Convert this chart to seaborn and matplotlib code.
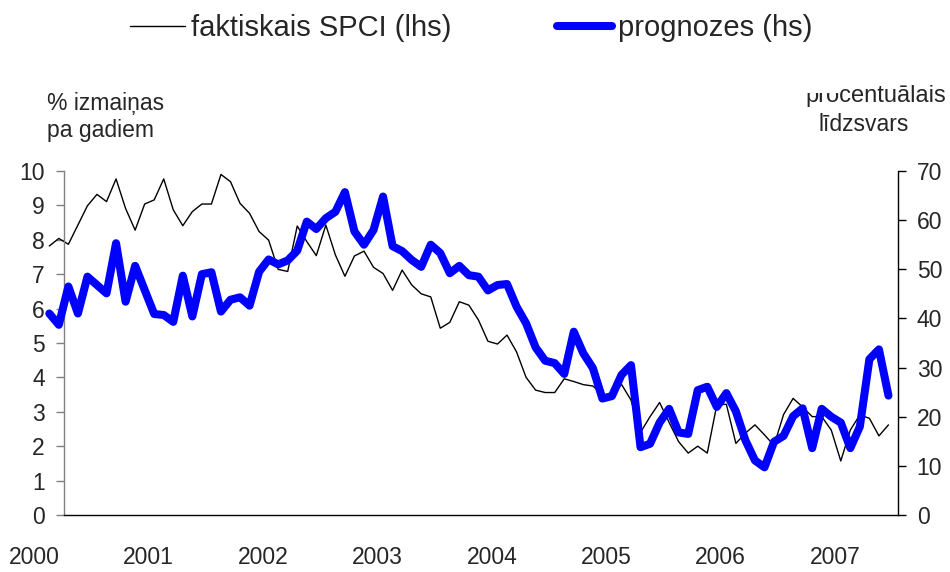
import numpy as np
import pandas as pd
import matplotlib
matplotlib.use("Agg")
import matplotlib.pyplot as plt
import seaborn as sns
from matplotlib.patches import Rectangle

# ---- data (monthly, starting Nov 1999) ----
spci = [7.82, 8.04, 7.87, 8.43, 8.99, 9.32, 9.11, 9.77, 8.91, 8.28,
        9.04, 9.16, 9.77, 8.87, 8.41, 8.82, 9.04, 9.04, 9.90, 9.69,
        9.06, 8.77, 8.24, 7.99, 7.14, 7.08, 8.40, 7.95, 7.54, 8.43,
        7.56, 6.94, 7.53, 7.67, 7.20, 7.02, 6.53, 7.12, 6.69, 6.43,
        6.34, 5.43, 5.60, 6.20, 6.10, 5.67, 5.05, 4.97, 5.23, 4.74,
        4.00, 3.63, 3.56, 3.56, 3.96, 3.88, 3.79, 3.75, 3.50, 3.44,
        3.80, 3.34, 2.40, 2.86, 3.27, 2.69, 2.13, 1.80, 2.00, 1.80,
        3.20, 3.22, 2.08, 2.38, 2.62, 2.33, 2.02, 2.92, 3.39, 3.14,
        2.86, 2.86, 2.47, 1.57, 2.47, 2.91, 2.81, 2.30, 2.62]

prognozes = [41.0, 38.7, 46.5, 41.0, 48.5, 46.8, 45.1, 55.3, 43.4, 50.7,
             45.8, 40.9, 40.7, 39.3, 48.7, 40.4, 49.0, 49.4, 41.4, 43.8,
             44.3, 42.6, 49.5, 52.0, 51.0, 51.8, 53.8, 59.7, 58.2, 60.4,
             61.7, 65.7, 57.7, 55.0, 58.0, 64.8, 54.7, 53.7, 51.9, 50.5,
             55.0, 53.3, 49.2, 50.7, 48.8, 48.5, 45.7, 46.8, 47.0, 42.4,
             39.0, 34.1, 31.4, 30.9, 28.7, 37.3, 32.9, 29.9, 23.7, 24.2,
             28.5, 30.5, 13.8, 14.5, 18.8, 21.6, 16.8, 16.5, 25.4, 26.1,
             22.0, 24.8, 21.1, 15.2, 11.1, 9.7, 14.9, 16.1, 20.1, 21.7,
             13.6, 21.6, 20.0, 18.8, 13.6, 18.0, 31.7, 33.7, 24.3]

months = pd.period_range("1999-11", periods=len(spci), freq="M")
year_labels = ["2000", "2001", "2002", "2003", "2004", "2005", "2006", "2007"]
left_ticks = list(range(0, 11))
right_ticks = list(range(0, 71, 10))

label_spci = "faktiskais SPCI (lhs)"
label_prog = "prognozes (hs)"
left_title = ["% izmaiņas", "pa gadiem"]
right_title = ["procentuālais", "līdzsvars"]

# ---- style ----
sns.set_style("white")
plt.rcParams["font.family"] = ["Liberation Sans", "DejaVu Sans"]

x = np.arange(len(months))
df = pd.DataFrame({"x": x, "spci": spci, "prog": prognozes})

fig = plt.figure(figsize=(9.5, 5.72), dpi=100)
W, H = 950.0, 572.0
x_left, x_right, y_top, y_bot = 49.3, 898.0, 171.0, 515.0
ax = fig.add_axes([x_left / W, 1 - y_bot / H, (x_right - x_left) / W, (y_bot - y_top) / H])
ax2 = ax.twinx()

sns.lineplot(data=df, x="x", y="spci", ax=ax, color="black", linewidth=1.0)
sns.lineplot(data=df, x="x", y="prog", ax=ax2, color="#0000FF", linewidth=5.8)
for ln in ax.lines + ax2.lines:
    ln.set_clip_on(False)
    ln.set_solid_joinstyle("round")

n = len(months)
ax.set_xlabel("")
ax.set_ylabel("")
ax2.set_ylabel("")

# first January in the series
jan0 = [i for i, m in enumerate(months) if m.month == 1][0]
tick_pos = [jan0 - 0.5 + 12 * k for k in range(len(year_labels))]
label_pos = [p - 3.1 for p in tick_pos]

ax.set_xticks(tick_pos)
ax.set_xticklabels([])
ax.tick_params(axis="x", which="major", direction="out", length=5, width=1, color="black")
for p, lab in zip(label_pos, year_labels):
    ax.annotate(lab, xy=(p, 0), xycoords=("data", "axes fraction"),
                xytext=(0, -30.5), textcoords="offset points",
                ha="center", va="center", fontsize=16.5, annotation_clip=False)

ax.set_yticks(left_ticks)
ax.set_yticklabels([str(v) for v in left_ticks])
ax.tick_params(axis="y", direction="out", length=5.5, width=1, color="#808080",
               labelsize=16.5, pad=8, left=True)
ax2.set_yticks(right_ticks)
ax2.set_yticklabels([str(v) for v in right_ticks])
ax2.tick_params(axis="y", direction="out", length=5.5, width=1, color="black",
                labelsize=16.5, pad=8, right=True)

ax.set_xlim(0, n)
ax.set_ylim(0, 10)
ax2.set_ylim(0, 70)

for s in ["top", "right"]:
    ax.spines[s].set_visible(False)
ax.spines["left"].set_position(("data", tick_pos[0]))
ax.spines["left"].set_color("#808080")
ax.spines["left"].set_linewidth(1.0)
ax.spines["bottom"].set_bounds(tick_pos[0], n)
ax.spines["bottom"].set_color("black")
ax.spines["bottom"].set_linewidth(1.0)
for s in ["top", "left", "bottom"]:
    ax2.spines[s].set_visible(False)
ax2.spines["right"].set_color("black")
ax2.spines["right"].set_linewidth(1.0)

# axis titles
fig.text(47 / W, 1 - 110 / H, left_title[0], ha="left", va="baseline", fontsize=16.5)
fig.text(47 / W, 1 - 137 / H, left_title[1], ha="left", va="baseline", fontsize=16.5)
fig.text(805 / W, 1 - 102 / H, right_title[0], ha="left", va="baseline", fontsize=17)
fig.text(818 / W, 1 - 131 / H, right_title[1], ha="left", va="baseline", fontsize=16.5)
# legend box overlapping the top of the right title
fig.patches.append(Rectangle((790 / W, 1 - 93 / H), 50 / W, 93 / H,
                             transform=fig.transFigure, facecolor="white",
                             edgecolor="none", zorder=5))

# legend
handles = [ax.lines[0], ax2.lines[0]]
leg = fig.legend(handles, [label_spci, label_prog], loc="center",
                 bbox_to_anchor=(471 / W, 1 - 28 / H), ncol=2, frameon=False,
                 fontsize=21, handlelength=1.9, handletextpad=0.2,
                 columnspacing=3.6)

fig.savefig("out.png", dpi=100)
